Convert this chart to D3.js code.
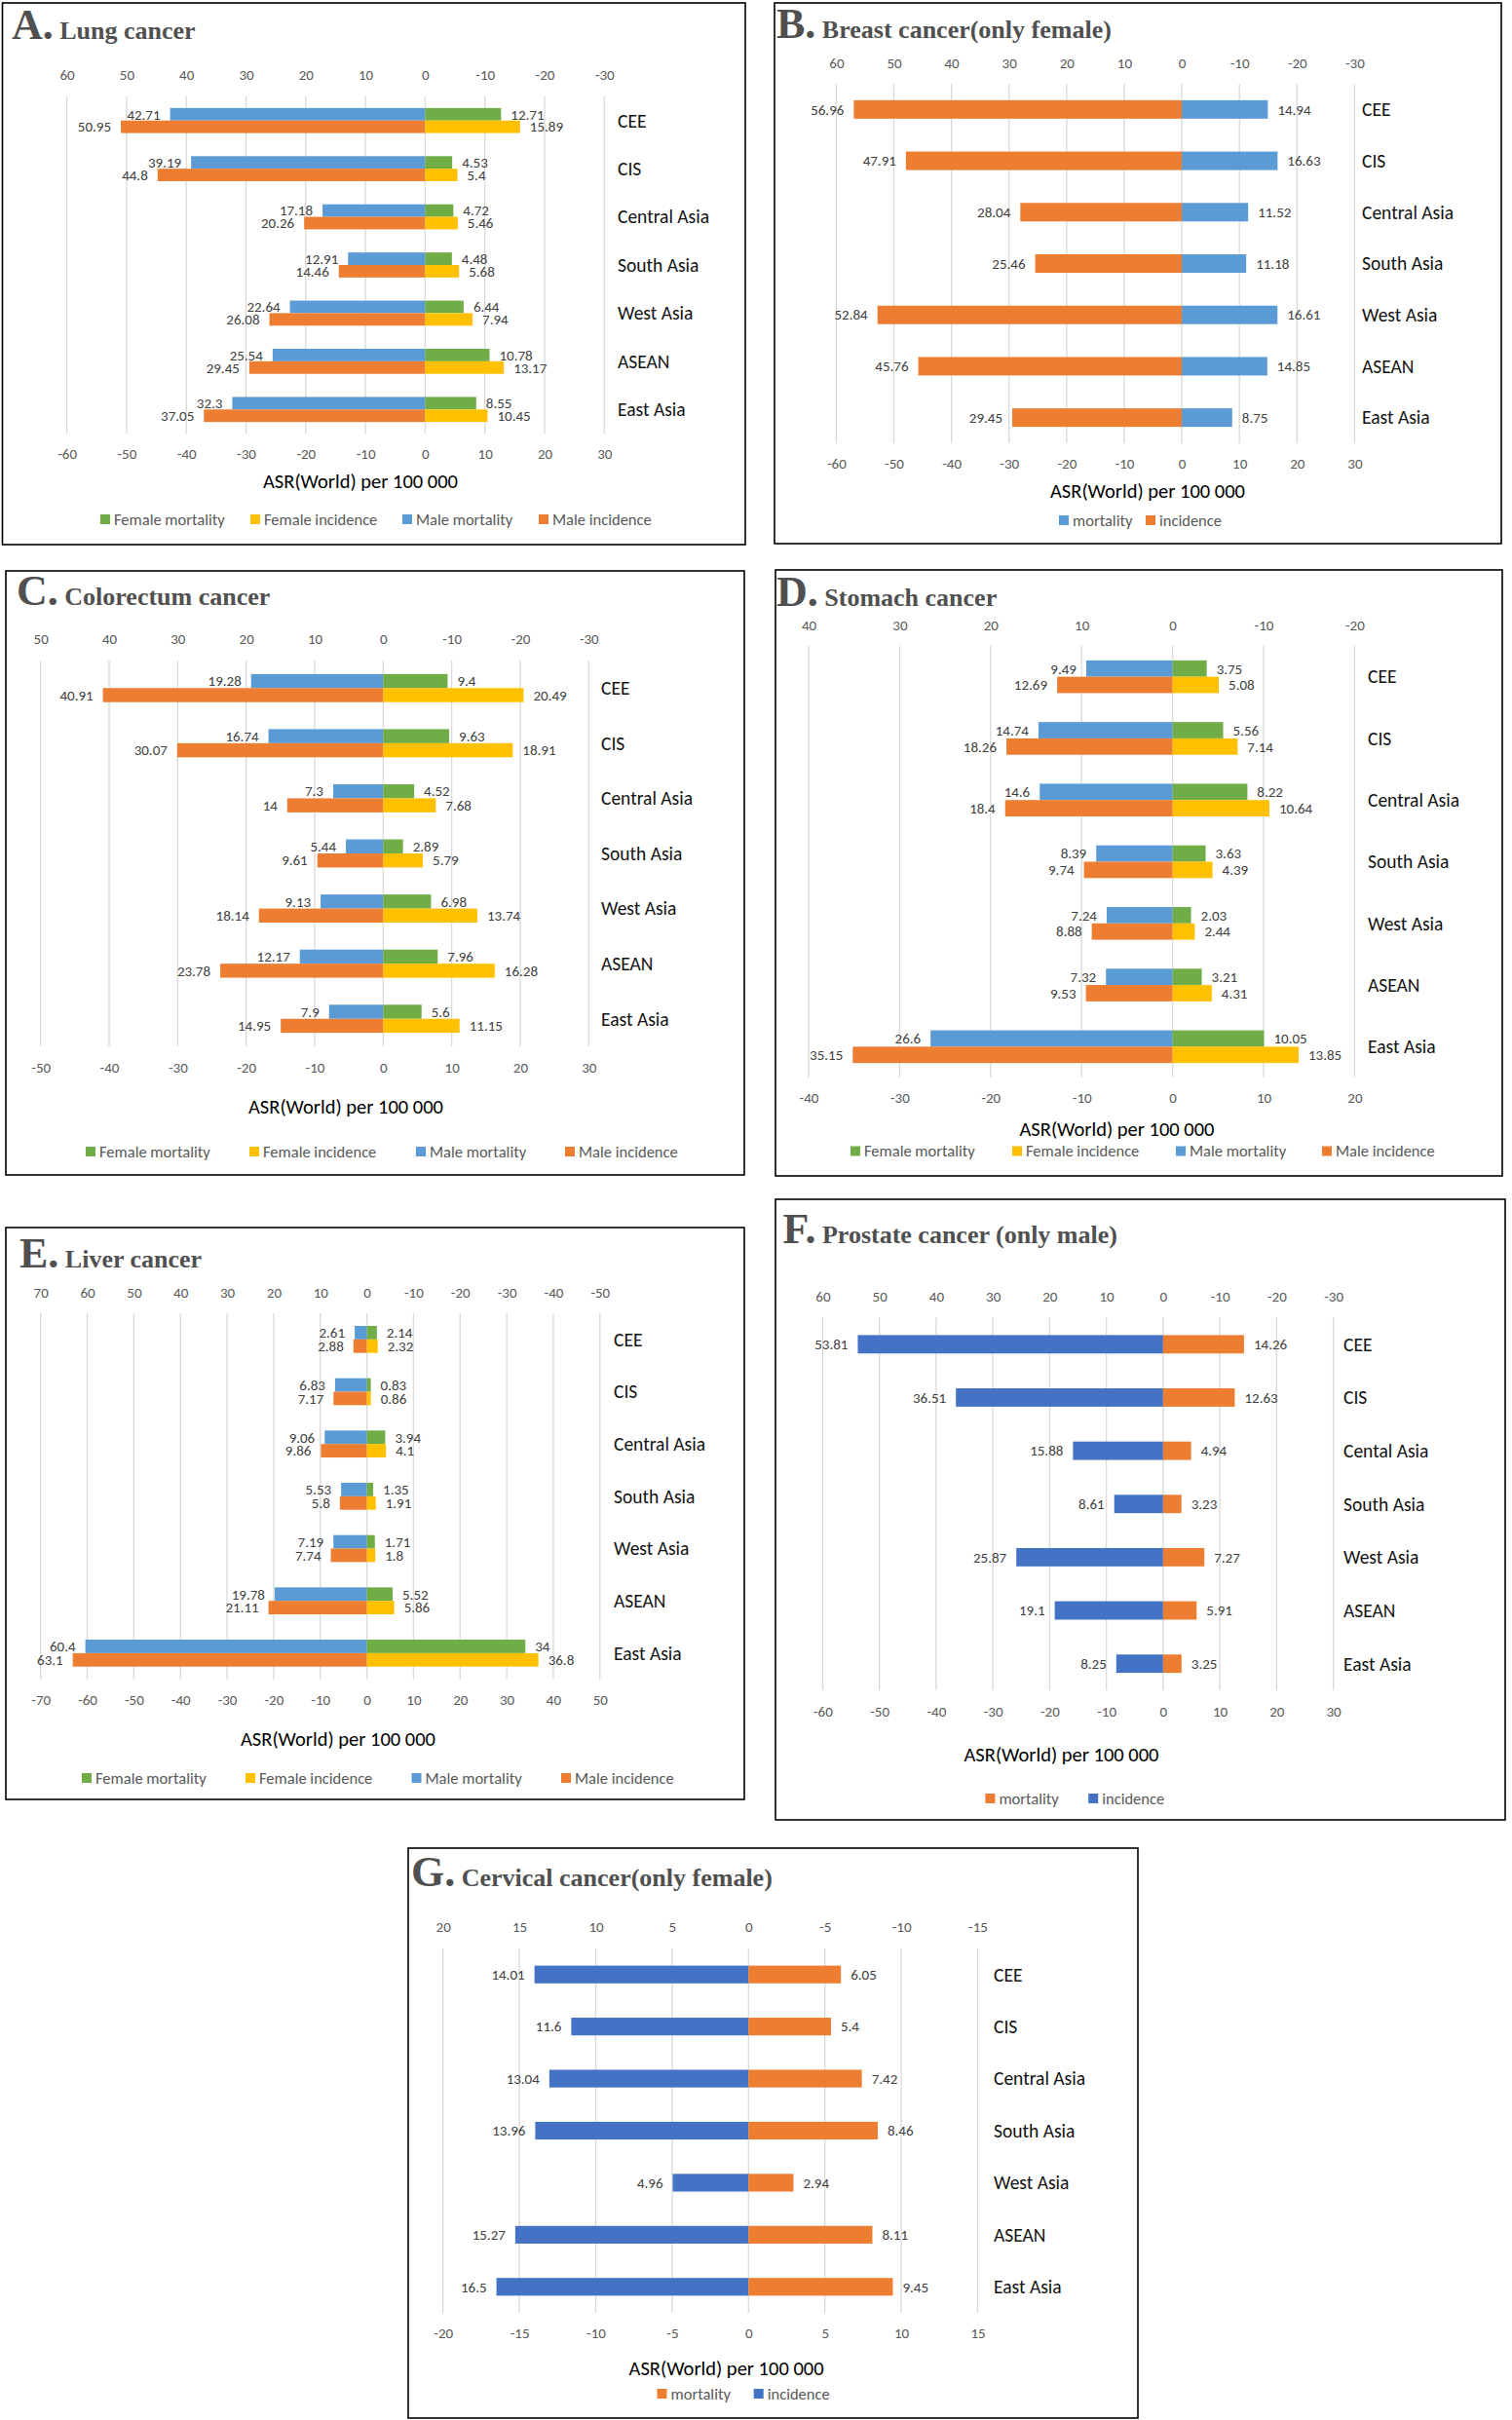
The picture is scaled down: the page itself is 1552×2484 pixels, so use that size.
<!DOCTYPE html>
<html>
<head>
<meta charset="utf-8">
<script src="https://cdn.jsdelivr.net/npm/d3@7"></script>
<style>
  body { margin: 0; background: #fff; }
  svg text { font-family: Calibri, Carlito, Lato, sans-serif; }
</style>
</head>
<body>
<svg id="fig" width="1552" height="2484"></svg>
<script>
// ---- data (ASR World per 100 000) ----
const regions = ["CEE", "CIS", "Central Asia", "South Asia", "West Asia", "ASEAN", "East Asia"];
// prostate chart has the typo "Cental" in the original
const regionsProstate = ["CEE", "CIS", "Cental Asia", "South Asia", "West Asia", "ASEAN", "East Asia"];

// A. lung
const lungMaleMort = [42.71, 39.19, 17.18, 12.91, 22.64, 25.54, 32.3];
const lungMaleInc = [50.95, 44.8, 20.26, 14.46, 26.08, 29.45, 37.05];
const lungFemMort = [12.71, 4.53, 4.72, 4.48, 6.44, 10.78, 8.55];
const lungFemInc = [15.89, 5.4, 5.46, 5.68, 7.94, 13.17, 10.45];

// B. breast
const breastInc = [56.96, 47.91, 28.04, 25.46, 52.84, 45.76, 29.45];
const breastMort = [14.94, 16.63, 11.52, 11.18, 16.61, 14.85, 8.75];

// C. colorectum
const crcMaleMort = [19.28, 16.74, 7.3, 5.44, 9.13, 12.17, 7.9];
const crcMaleInc = [40.91, 30.07, 14, 9.61, 18.14, 23.78, 14.95];
const crcFemMort = [9.4, 9.63, 4.52, 2.89, 6.98, 7.96, 5.6];
const crcFemInc = [20.49, 18.91, 7.68, 5.79, 13.74, 16.28, 11.15];

// D. stomach
const stoMaleMort = [9.49, 14.74, 14.6, 8.39, 7.24, 7.32, 26.6];
const stoMaleInc = [12.69, 18.26, 18.4, 9.74, 8.88, 9.53, 35.15];
const stoFemMort = [3.75, 5.56, 8.22, 3.63, 2.03, 3.21, 10.05];
const stoFemInc = [5.08, 7.14, 10.64, 4.39, 2.44, 4.31, 13.85];

// E. liver
const livMaleMort = [2.61, 6.83, 9.06, 5.53, 7.19, 19.78, 60.4];
const livMaleInc = [2.88, 7.17, 9.86, 5.8, 7.74, 21.11, 63.1];
const livFemMort = [2.14, 0.83, 3.94, 1.35, 1.71, 5.52, 34];
const livFemInc = [2.32, 0.86, 4.1, 1.91, 1.8, 5.86, 36.8];

// F. prostate
const prostInc = [53.81, 36.51, 15.88, 8.61, 25.87, 19.1, 8.25];
const prostMort = [14.26, 12.63, 4.94, 3.23, 7.27, 5.91, 3.25];

// G. cervical
const cervInc = [14.01, 11.6, 13.04, 13.96, 4.96, 15.27, 16.5];
const cervMort = [6.05, 5.4, 7.42, 8.46, 2.94, 8.11, 9.45];

// legend names
const sexLegend = ["Female mortality", "Female incidence", "Male mortality", "Male incidence"];

// excel office colours
const GREEN = "#70AD47", YELLOW = "#FFC000", BLUE = "#5B9BD5", ORANGE = "#ED7D31", DKBLUE = "#4472C4";

const svg = d3.select("#fig");

// draws one panel. left series go to the negative side, right series to the positive side
function drawPanel(p) {
  const g = svg.append("g");

  // frame
  g.append("rect")
    .attr("x", p.box[0]).attr("y", p.box[1])
    .attr("width", p.box[2] - p.box[0]).attr("height", p.box[3] - p.box[1])
    .attr("fill", "none").attr("stroke", "#000").attr("stroke-width", 1.6);

  // title: big letter + name
  const t = g.append("text")
    .attr("x", p.titleX).attr("y", p.titleY)
    .attr("fill", "#505050")
    .style("font-family", "'Liberation Serif', 'Times New Roman', serif")
    .style("font-weight", "bold");
  t.append("tspan").style("font-size", "44px").text(p.letter + ".");
  t.append("tspan").style("font-size", "26px").text(" " + p.name);

  const x = d3.scaleLinear().domain(p.domain).range(p.xRange);
  const y = d3.scaleBand().domain(p.cats).range([p.gridTop, p.gridBot]);
  const ticks = d3.range(p.domain[0], p.domain[1] + 0.001, p.step);

  // vertical gridlines
  g.append("g").selectAll("line").data(ticks).join("line")
    .attr("x1", d => x(d)).attr("x2", d => x(d))
    .attr("y1", p.gridTop).attr("y2", p.gridBot)
    .attr("stroke", "#d9d9d9").attr("stroke-width", 1.3);

  // top axis shows the numbers flipped, bottom axis the real ones
  const axes = [
    { gen: d3.axisTop(x).tickFormat(d => String(-d)), yy: p.topTickY },
    { gen: d3.axisBottom(x).tickFormat(d => String(d)), yy: p.botTickY }
  ];
  axes.forEach(a => {
    const ax = g.append("g")
      .attr("transform", `translate(0,${a.yy})`)
      .call(a.gen.tickValues(ticks).tickSize(0).tickPadding(0));
    ax.select(".domain").remove();
    ax.attr("font-size", null).attr("font-family", null);
    ax.selectAll("text")
      .attr("y", 0).attr("dy", "0.35em")
      .attr("fill", "#595959")
      .style("font-size", "15px");
  });

  // bars
  const band = y.bandwidth();
  const h = p.frac * band / (p.series.length === 4 ? 2 : 1);
  p.series.forEach(s => {
    const yOff = (p.series.length === 4) ? (s.row === 0 ? -h : 0) : -h / 2;
    const sign = s.side === "left" ? -1 : 1;
    const gs = g.append("g");
    gs.selectAll("rect").data(s.values).join("rect")
      .attr("x", d => Math.min(x(0), x(sign * d)))
      .attr("width", d => Math.abs(x(sign * d) - x(0)))
      .attr("y", (d, i) => y(p.cats[i]) + band / 2 + yOff)
      .attr("height", h)
      .attr("fill", s.color);
    // value labels beside bar ends
    gs.selectAll("text").data(s.values).join("text")
      .attr("x", d => x(sign * d) + sign * 10)
      .attr("y", (d, i) => y(p.cats[i]) + band / 2 + yOff + h / 2)
      .attr("dy", "0.35em")
      .attr("text-anchor", sign < 0 ? "end" : "start")
      .attr("fill", "#404040")
      .style("font-size", "15px")
      .text(d => d);
  });

  // category names on the right
  g.append("g").selectAll("text").data(p.cats).join("text")
    .attr("x", p.catX)
    .attr("y", d => y(d) + band / 2)
    .attr("dy", "0.35em")
    .attr("fill", "#111")
    .style("font-size", "19.5px")
    .text(d => d);

  // axis title
  g.append("text")
    .attr("x", p.axisTitle[0]).attr("y", p.axisTitle[1])
    .attr("dy", "0.35em").attr("text-anchor", "middle")
    .attr("fill", "#000")
    .style("font-size", "20.5px")
    .text("ASR(World) per 100 000");

  // legend
  const lg = g.append("g").selectAll("g").data(p.legend).join("g")
    .attr("transform", (d, i) => `translate(${p.legendX[i]},${p.legendY})`);
  lg.append("rect").attr("x", -14).attr("y", -5).attr("width", 10).attr("height", 10)
    .attr("fill", d => d.color);
  lg.append("text").attr("x", 0).attr("dy", "0.35em")
    .attr("fill", "#595959").style("font-size", "16.5px")
    .text(d => d.label);
}

// helper to build the 4-series list
function sexSeries(mm, mi, fm, fi) {
  return [
    { values: mm, color: BLUE, side: "left", row: 0 },
    { values: mi, color: ORANGE, side: "left", row: 1 },
    { values: fm, color: GREEN, side: "right", row: 0 },
    { values: fi, color: YELLOW, side: "right", row: 1 }
  ];
}
const sexLegendItems = [
  { label: sexLegend[0], color: GREEN },
  { label: sexLegend[1], color: YELLOW },
  { label: sexLegend[2], color: BLUE },
  { label: sexLegend[3], color: ORANGE }
];

// A
drawPanel({
  letter: "A", name: "Lung cancer", box: [2.5, 3, 765, 559], titleX: 12, titleY: 40,
  domain: [-60, 30], step: 10, xRange: [68.6, 620.3], gridTop: 99, gridBot: 445,
  topTickY: 77, botTickY: 466, axisTitle: [370, 494], catX: 634, frac: 0.52, cats: regions,
  series: sexSeries(lungMaleMort, lungMaleInc, lungFemMort, lungFemInc),
  legend: sexLegendItems, legendX: [117, 271, 427, 567], legendY: 533
});

// B
drawPanel({
  letter: "B", name: "Breast cancer(only female)", box: [795, 3, 1541, 558], titleX: 797, titleY: 39,
  domain: [-60, 30], step: 10, xRange: [858.4, 1390.4], gridTop: 86, gridBot: 455,
  topTickY: 65, botTickY: 476, axisTitle: [1178, 504], catX: 1398, frac: 0.36, cats: regions,
  series: [
    { values: breastInc, color: ORANGE, side: "left" },
    { values: breastMort, color: BLUE, side: "right" }
  ],
  legend: [{ label: "mortality", color: BLUE }, { label: "incidence", color: ORANGE }],
  legendX: [1101, 1190], legendY: 534
});

// C
drawPanel({
  letter: "C", name: "Colorectum cancer", box: [6, 586, 764, 1206], titleX: 17, titleY: 621,
  domain: [-50, 30], step: 10, xRange: [41.7, 604.3], gridTop: 678, gridBot: 1074,
  topTickY: 656, botTickY: 1095.5, axisTitle: [355, 1136], catX: 617, frac: 0.51, cats: regions,
  series: sexSeries(crcMaleMort, crcMaleInc, crcFemMort, crcFemInc),
  legend: sexLegendItems, legendX: [102, 270, 441, 594], legendY: 1182
});

// D
drawPanel({
  letter: "D", name: "Stomach cancer", box: [796, 585, 1542, 1207], titleX: 797, titleY: 622,
  domain: [-40, 20], step: 10, xRange: [830, 1390.4], gridTop: 663, gridBot: 1106,
  topTickY: 641.5, botTickY: 1127, axisTitle: [1146.5, 1159], catX: 1404, frac: 0.53, cats: regions,
  series: sexSeries(stoMaleMort, stoMaleInc, stoFemMort, stoFemInc),
  legend: sexLegendItems, legendX: [887, 1053, 1221, 1371], legendY: 1181.5
});

// E
drawPanel({
  letter: "E", name: "Liver cancer", box: [6, 1260, 764, 1847], titleX: 20, titleY: 1300.5,
  domain: [-70, 50], step: 10, xRange: [41.7, 615.8], gridTop: 1348, gridBot: 1723.7,
  topTickY: 1327, botTickY: 1744.6, axisTitle: [347, 1784.4], catX: 630, frac: 0.516, cats: regions,
  series: sexSeries(livMaleMort, livMaleInc, livFemMort, livFemInc),
  legend: sexLegendItems, legendX: [98, 266, 436.5, 590], legendY: 1825
});

// F
drawPanel({
  letter: "F", name: "Prostate cancer (only male)", box: [796, 1231, 1545, 1868], titleX: 803.6, titleY: 1276,
  domain: [-60, 30], step: 10, xRange: [844.4, 1368.6], gridTop: 1352.5, gridBot: 1735,
  topTickY: 1331, botTickY: 1757, axisTitle: [1089.5, 1801], catX: 1379, frac: 0.345, cats: regionsProstate,
  series: [
    { values: prostInc, color: DKBLUE, side: "left" },
    { values: prostMort, color: ORANGE, side: "right" }
  ],
  legend: [{ label: "mortality", color: ORANGE }, { label: "incidence", color: DKBLUE }],
  legendX: [1025.4, 1131.2], legendY: 1846
});

// G
drawPanel({
  letter: "G", name: "Cervical cancer(only female)", box: [419, 1897, 1168, 2482], titleX: 422, titleY: 1936,
  domain: [-20, 15], step: 5, xRange: [454.7, 1003.5], gridTop: 2000, gridBot: 2374,
  topTickY: 1978, botTickY: 2395, axisTitle: [745.6, 2430.5], catX: 1020, frac: 0.34, cats: regions,
  series: [
    { values: cervInc, color: DKBLUE, side: "left" },
    { values: cervMort, color: ORANGE, side: "right" }
  ],
  legend: [{ label: "mortality", color: ORANGE }, { label: "incidence", color: DKBLUE }],
  legendX: [688.5, 787.7], legendY: 2457
});
</script>
</body>
</html>
